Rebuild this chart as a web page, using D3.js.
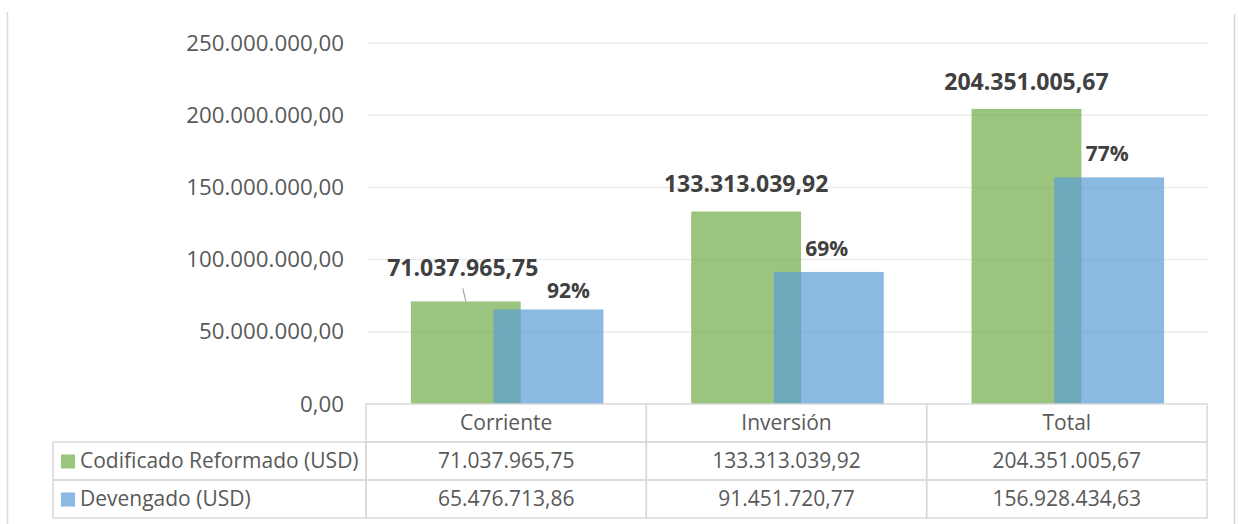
<!DOCTYPE html>
<html>
<head>
<meta charset="utf-8">
<script src="https://cdn.jsdelivr.net/npm/d3@7"></script>
<style>
  body { margin: 0; background: #fff; }
  text { font-family: "Open Sans", sans-serif; }
</style>
</head>
<body>
<div id="chart"></div>
<script>
// Data
const categories = ['Corriente', 'Inversión', 'Total'];
const codificado = [71037965.75, 133313039.92, 204351005.67];
const devengado = [65476713.86, 91451720.77, 156928434.63];
const percentLabels = ['92%', '69%', '77%'];
const seriesNames = ['Codificado Reformado (USD)', 'Devengado (USD)'];
const yTicks = [0, 50000000, 100000000, 150000000, 200000000, 250000000];

const W = 1238, H = 524;
const green = '#70AD47', blue = '#5B9BD5';

const locale = d3.formatLocale({ decimal: ',', thousands: '.', grouping: [3], currency: ['$', ''] });
const fmt = locale.format(',.2f');

const svg = d3.select('#chart')
  .append('svg')
  .attr('width', W)
  .attr('height', H);

// Frame lines
svg.append('line').attr('x1', 7.5).attr('x2', 7.5).attr('y1', 12).attr('y2', H)
  .attr('stroke', '#d9d9d9').attr('stroke-width', 1.5);
svg.append('line').attr('x1', 1234.5).attr('x2', 1234.5).attr('y1', 14).attr('y2', H)
  .attr('stroke', '#d9d9d9').attr('stroke-width', 1.5);

// Scales
const x = d3.scaleBand()
  .domain(categories)
  .range([366, 1207])
  .padding(0);
const y = d3.scaleLinear()
  .domain([0, 250000000])
  .range([404, 43]);

// Gridlines
svg.append('g')
  .selectAll('line')
  .data(yTicks.slice(1))
  .enter().append('line')
  .attr('x1', 367).attr('x2', 1208)
  .attr('y1', d => y(d)).attr('y2', d => y(d))
  .attr('stroke', '#ececec').attr('stroke-width', 1.5);

// Y axis
const yAxis = svg.append('g')
  .attr('transform', 'translate(344,0)')
  .call(d3.axisLeft(y).tickValues(yTicks).tickFormat(fmt).tickSize(0).tickPadding(0));
yAxis.select('.domain').remove();
yAxis.selectAll('text')
  .attr('font-family', '"Open Sans", sans-serif')
  .attr('font-size', 22.3)
  .attr('fill', '#595959');

// Bars
const bw = x.bandwidth();
const barW = bw * 0.392;
const gOff = bw * 0.16, bOff = bw * 0.455;

svg.selectAll('.bar-cod')
  .data(codificado)
  .enter().append('rect')
  .attr('class', 'bar-cod')
  .attr('x', (d, i) => x(categories[i]) + gOff)
  .attr('width', barW)
  .attr('y', d => y(d))
  .attr('height', d => y(0) - y(d))
  .attr('fill', green).attr('fill-opacity', 0.7);

svg.selectAll('.bar-dev')
  .data(devengado)
  .enter().append('rect')
  .attr('class', 'bar-dev')
  .attr('x', (d, i) => x(categories[i]) + bOff)
  .attr('width', barW)
  .attr('y', d => y(d))
  .attr('height', d => y(0) - y(d))
  .attr('fill', blue).attr('fill-opacity', 0.7);

// Data labels (first category labels were moved in the original)
const nudge = { green: [[-3, -6], [0, 0], [0, 0]], blue: [[22, 5], [0, 0], [0, 0]] };

svg.selectAll('.lbl-cod')
  .data(codificado)
  .enter().append('text')
  .attr('class', 'lbl-cod')
  .attr('x', (d, i) => x(categories[i]) + gOff + barW / 2 + nudge.green[i][0])
  .attr('y', (d, i) => y(d) - 19 + nudge.green[i][1])
  .attr('text-anchor', 'middle')
  .attr('font-size', 23).attr('font-weight', 'bold').attr('fill', '#404040')
  .text(d => fmt(d));

svg.selectAll('.lbl-pct')
  .data(devengado)
  .enter().append('text')
  .attr('class', 'lbl-pct')
  .attr('x', (d, i) => x(categories[i]) + bOff + barW / 2 - 2 + nudge.blue[i][0])
  .attr('y', (d, i) => y(d) - 16 + nudge.blue[i][1])
  .attr('text-anchor', 'middle')
  .attr('font-size', 21).attr('font-weight', 'bold').attr('fill', '#404040')
  .text((d, i) => percentLabels[i]);

// Leader line for the moved label
svg.append('line')
  .attr('x1', x(categories[0]) + gOff + barW / 2 - 3)
  .attr('y1', y(codificado[0]) - 13)
  .attr('x2', x(categories[0]) + gOff + barW / 2)
  .attr('y2', y(codificado[0]))
  .attr('stroke', '#a6a6a6').attr('stroke-width', 1.2);

// Data table
const rowTop = 404, rowH = 38;
const tableLeft = 53;
const tbl = svg.append('g');
const border = '#d9d9d9';

// header row cells
tbl.selectAll('.hcell')
  .data(categories)
  .enter().append('rect')
  .attr('x', d => x(d)).attr('y', rowTop)
  .attr('width', bw).attr('height', rowH)
  .attr('fill', 'none').attr('stroke', border).attr('stroke-width', 1.5);
tbl.selectAll('.htext')
  .data(categories)
  .enter().append('text')
  .attr('x', d => x(d) + bw / 2).attr('y', rowTop + rowH / 2)
  .attr('dy', '0.35em').attr('text-anchor', 'middle')
  .attr('font-size', 21).attr('fill', '#595959')
  .text(d => d);

const rows = [codificado, devengado];
const swatch = [green, blue];
rows.forEach((vals, r) => {
  const ry = rowTop + rowH * (r + 1);
  tbl.append('rect')
    .attr('x', tableLeft).attr('y', ry)
    .attr('width', x(categories[0]) - tableLeft).attr('height', rowH)
    .attr('fill', 'none').attr('stroke', border).attr('stroke-width', 1.5);
  tbl.append('rect')
    .attr('x', 61).attr('y', ry + rowH / 2 - 6.5)
    .attr('width', 14).attr('height', 14)
    .attr('fill', swatch[r]).attr('fill-opacity', 0.7);
  tbl.append('text')
    .attr('x', 80).attr('y', ry + rowH / 2)
    .attr('dy', '0.35em')
    .attr('font-size', 21).attr('fill', '#595959')
    .text(seriesNames[r]);
  tbl.selectAll('.cell' + r)
    .data(vals)
    .enter().append('rect')
    .attr('x', (d, i) => x(categories[i])).attr('y', ry)
    .attr('width', bw).attr('height', rowH)
    .attr('fill', 'none').attr('stroke', border).attr('stroke-width', 1.5);
  tbl.selectAll('.ctext' + r)
    .data(vals)
    .enter().append('text')
    .attr('x', (d, i) => x(categories[i]) + bw / 2).attr('y', ry + rowH / 2)
    .attr('dy', '0.35em').attr('text-anchor', 'middle')
    .attr('font-size', 21).attr('fill', '#595959')
    .text(d => fmt(d));
});
</script>
</body>
</html>
